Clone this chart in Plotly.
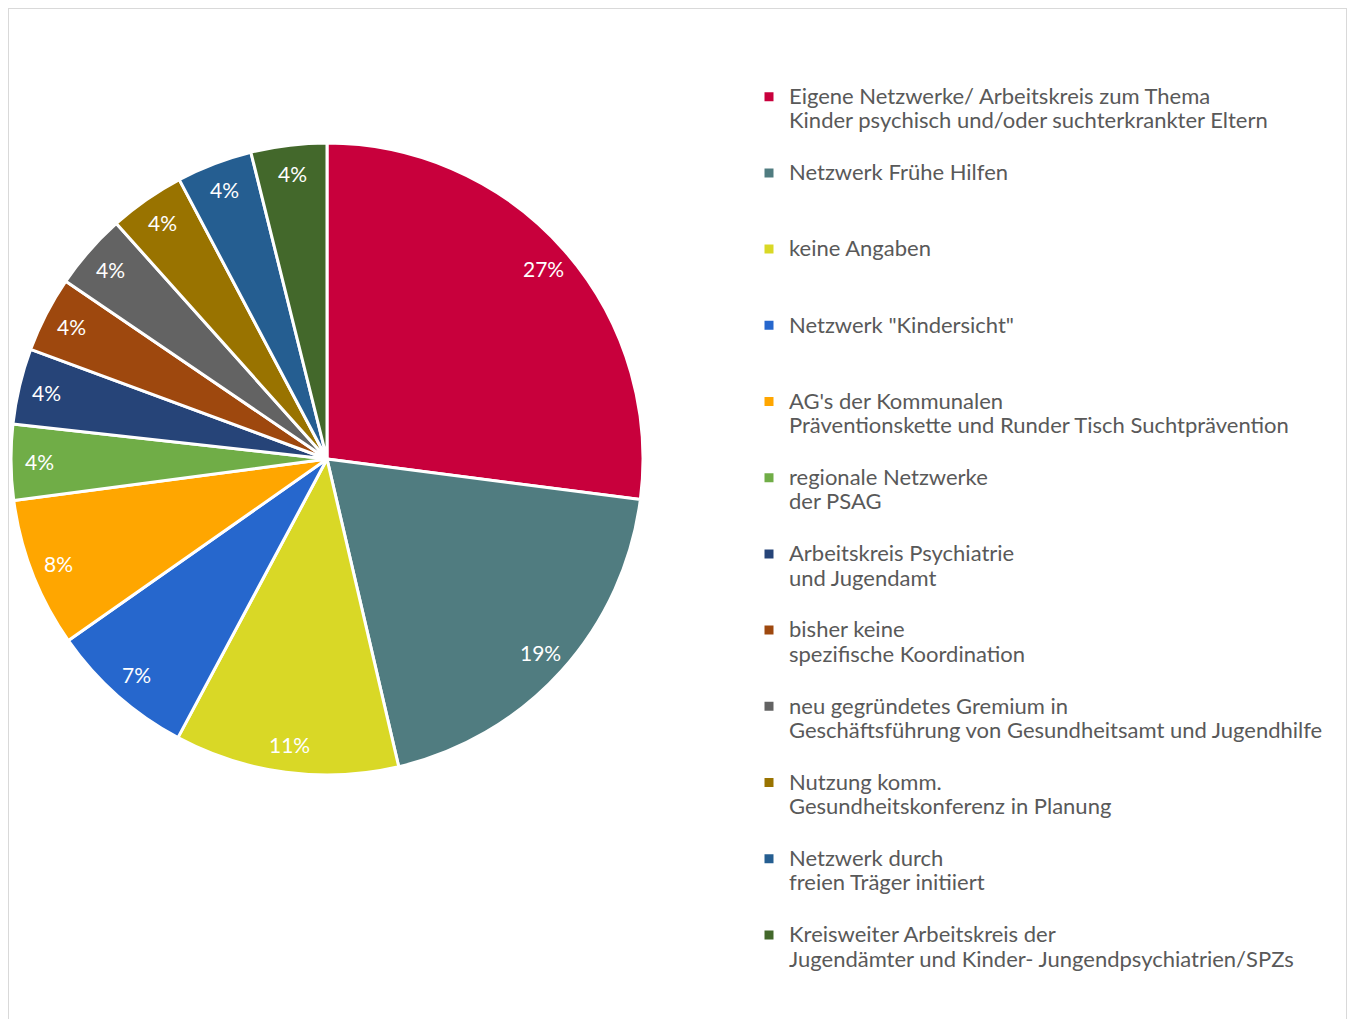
import math
import plotly.graph_objects as go

labels = [
    "Eigene Netzwerke/ Arbeitskreis zum Thema<br>Kinder psychisch und/oder suchterkrankter Eltern",
    "Netzwerk Frühe Hilfen",
    "keine Angaben",
    "Netzwerk \"Kindersicht\"",
    "AG's der Kommunalen<br>Präventionskette und Runder Tisch Suchtprävention",
    "regionale Netzwerke<br>der PSAG",
    "Arbeitskreis Psychiatrie<br>und Jugendamt",
    "bisher keine<br>spezifische Koordination",
    "neu gegründetes Gremium in<br>Geschäftsführung von Gesundheitsamt und Jugendhilfe",
    "Nutzung komm.<br>Gesundheitskonferenz in Planung",
    "Netzwerk durch<br>freien Träger initiiert",
    "Kreisweiter Arbeitskreis der<br>Jugendämter und Kinder- Jungendpsychiatrien/SPZs",
]
values = [26.9, 19.2, 11.4, 7.4, 7.6, 3.85, 3.85, 3.85, 3.85, 3.85, 3.85, 3.85]
colors = ["#C8003C", "#507C80", "#D9D826", "#2667CD", "#FFA600", "#70AD47",
          "#264478", "#9E480E", "#636363", "#997300", "#255E91", "#43682B"]

FONT = "Lato"
LEG_TXT = 22
LBL_TXT = 21


def legend_label(s):
    parts = s.split("<br>")
    while len(parts) < 3:
        parts.append(" ")
    return "<br>".join(f'<span style="font-size:{LEG_TXT}px">{p}</span>' for p in parts)


W, H = 1339, 1011
cx, cy, r = 319, 451, 316
r_label = 288

fig = go.Figure(go.Pie(
    labels=[legend_label(l) for l in labels],
    values=values,
    sort=False,
    direction="clockwise",
    rotation=0,
    marker=dict(colors=colors, line=dict(color="white", width=3)),
    textinfo="none",
    hoverinfo="skip",
    domain=dict(x=[(cx - r) / W, (cx + r) / W], y=[(H - cy - r) / H, (H - cy + r) / H]),
))

# percentage labels placed near the outer edge of each slice (Excel "best fit" look)
total = sum(values)
annotations = []
cum = 0.0
for v in values:
    theta = 2 * math.pi * (cum + v / 2) / total
    cum += v
    px = cx + r_label * math.sin(theta)
    py = cy - r_label * math.cos(theta)
    annotations.append(dict(
        x=px / W, y=1 - py / H, xref="paper", yref="paper",
        text=f"{round(100 * v / total)}%", showarrow=False,
        xanchor="center", yanchor="middle",
        font=dict(family=FONT, size=LBL_TXT, color="white"),
    ))

fig.update_layout(
    width=W, height=H,
    margin=dict(l=0, r=0, t=0, b=0),
    paper_bgcolor="white",
    plot_bgcolor="white",
    font=dict(family=FONT, color="#595959"),
    showlegend=True,
    legend=dict(
        x=741 / W, xanchor="left",
        y=1 - 70 / H, yanchor="top",
        valign="top",
        font=dict(family=FONT, size=18.77, color="#595959"),
        bgcolor="rgba(0,0,0,0)",
    ),
    annotations=annotations,
    shapes=[
        dict(type="line", xref="paper", yref="paper", x0=0, x1=0, y0=0, y1=1,
             line=dict(color="#D9D9D9", width=2)),
        dict(type="line", xref="paper", yref="paper", x0=0, x1=1, y0=1, y1=1,
             line=dict(color="#D9D9D9", width=2)),
        dict(type="line", xref="paper", yref="paper", x0=1, x1=1, y0=0, y1=1,
             line=dict(color="#D9D9D9", width=2)),
    ],
)

fig.write_html("out.html")
